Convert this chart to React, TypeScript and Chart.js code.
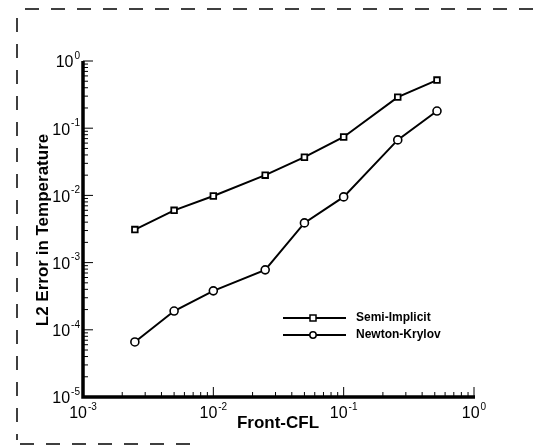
import React, { useEffect, useRef } from "react";
import { Chart, registerables } from "chart.js";

Chart.register(...registerables);

const cflValues = [0.0025, 0.005, 0.01, 0.025, 0.05, 0.1, 0.26, 0.52];
const semiImplicit = [0.0031, 0.006, 0.0098, 0.02, 0.037, 0.074, 0.29, 0.52];
const newtonKrylov = [0.000066, 0.00019, 0.00038, 0.00078, 0.0039, 0.0095, 0.067, 0.18];
const xExponents = [-3, -2, -1, 0];
const yExponents = [-5, -4, -3, -2, -1, 0];
const seriesNames = ["Semi-Implicit", "Newton-Krylov"];
const xTitle = "Front-CFL";
const yTitle = "L2 Error in Temperature";

const FONT = "'Liberation Sans', Arial, sans-serif";

function drawPow(ctx: CanvasRenderingContext2D, exp: number, x: number, y: number, align: "center" | "right") {
  ctx.save();
  ctx.fillStyle = "#000";
  ctx.textBaseline = "middle";
  ctx.font = `16px ${FONT}`;
  const base = "10";
  const bw = ctx.measureText(base).width;
  ctx.font = `10px ${FONT}`;
  const sup = String(exp);
  const sw = ctx.measureText(sup).width;
  const total = bw + sw + 1;
  const x0 = align === "center" ? x - total / 2 : x - total;
  ctx.font = `16px ${FONT}`;
  ctx.textAlign = "left";
  ctx.fillText(base, x0, y);
  ctx.font = `10px ${FONT}`;
  ctx.fillText(sup, x0 + bw + 1, y - 7);
  ctx.restore();
}

const decorPlugin = {
  id: "decor",
  afterDraw(chart: any) {
    const ctx: CanvasRenderingContext2D = chart.ctx;
    const xs = chart.scales.x;
    const ys = chart.scales.y;
    const { left, right, top, bottom } = chart.chartArea;
    ctx.save();
    // dashed frame
    ctx.strokeStyle = "#000";
    ctx.lineWidth = 1.5;
    ctx.setLineDash([14, 12]);
    ctx.beginPath();
    ctx.moveTo(25, 9);
    ctx.lineTo(536, 9);
    ctx.moveTo(17, 18);
    ctx.lineTo(17, 440);
    ctx.moveTo(20, 444);
    ctx.lineTo(200, 444);
    ctx.stroke();
    ctx.setLineDash([]);

    // minor/major ticks (inward)
    ctx.lineWidth = 1;
    ctx.beginPath();
    for (let e = -3; e < 0; e++) {
      for (let m = 1; m <= 9; m++) {
        const v = m * Math.pow(10, e);
        const px = xs.getPixelForValue(v);
        const len = m === 1 ? 10 : 5;
        ctx.moveTo(px, bottom);
        ctx.lineTo(px, bottom - len);
      }
    }
    {
      const px = xs.getPixelForValue(1);
      ctx.moveTo(px, bottom);
      ctx.lineTo(px, bottom - 10);
    }
    for (let e = -5; e < 0; e++) {
      for (let m = 1; m <= 9; m++) {
        const v = m * Math.pow(10, e);
        const py = ys.getPixelForValue(v);
        const len = m === 1 ? 10 : 5;
        ctx.moveTo(left, py);
        ctx.lineTo(left + len, py);
      }
    }
    {
      const py = ys.getPixelForValue(1);
      ctx.moveTo(left, py);
      ctx.lineTo(left + 10, py);
    }
    ctx.stroke();

    // thick axes
    ctx.lineWidth = 3.5;
    ctx.beginPath();
    ctx.moveTo(left, top);
    ctx.lineTo(left, bottom);
    ctx.lineTo(right + 1, bottom);
    ctx.stroke();

    // tick labels
    xExponents.forEach((e) => drawPow(ctx, e, xs.getPixelForValue(Math.pow(10, e)), bottom + 17, "center"));
    yExponents.forEach((e) => drawPow(ctx, e, left - 3, ys.getPixelForValue(Math.pow(10, e)) + 2, "right"));

    // axis titles
    ctx.fillStyle = "#000";
    ctx.font = `bold 17px ${FONT}`;
    ctx.textAlign = "center";
    ctx.textBaseline = "middle";
    ctx.fillText(xTitle, 278, 423);
    ctx.save();
    ctx.translate(43, 230);
    ctx.rotate(-Math.PI / 2);
    ctx.fillText(yTitle, 0, 0);
    ctx.restore();

    // legend
    const legY = [318, 335];
    const styles = ["rect", "circle"];
    legY.forEach((y, i) => {
      ctx.strokeStyle = "#000";
      ctx.lineWidth = 2;
      ctx.beginPath();
      ctx.moveTo(283, y);
      ctx.lineTo(346, y);
      ctx.stroke();
      ctx.fillStyle = "#fff";
      ctx.lineWidth = 1.5;
      ctx.beginPath();
      if (styles[i] === "rect") {
        ctx.rect(310, y - 3, 6, 6);
      } else {
        ctx.arc(313, y, 3.2, 0, Math.PI * 2);
      }
      ctx.fill();
      ctx.stroke();
      ctx.fillStyle = "#000";
      ctx.font = `bold 12px ${FONT}`;
      ctx.textAlign = "left";
      ctx.fillText(seriesNames[i], 356, y);
    });
    ctx.restore();
  },
};

export default function App() {
  const ref = useRef<HTMLCanvasElement | null>(null);
  useEffect(() => {
    document.body.style.margin = "0";
    document.body.style.background = "#fff";
    const canvas = ref.current!;
    const chart = new Chart(canvas, {
      type: "line",
      data: {
        datasets: [
          {
            label: seriesNames[0],
            data: cflValues.map((x, i) => ({ x, y: semiImplicit[i] })),
            borderColor: "#000",
            borderWidth: 2,
            pointStyle: "rect",
            pointRadius: 4,
            pointBackgroundColor: "#fff",
            pointBorderColor: "#000",
            pointBorderWidth: 1.8,
          },
          {
            label: seriesNames[1],
            data: cflValues.map((x, i) => ({ x, y: newtonKrylov[i] })),
            borderColor: "#000",
            borderWidth: 2,
            pointStyle: "circle",
            pointRadius: 4,
            pointBackgroundColor: "#fff",
            pointBorderColor: "#000",
            pointBorderWidth: 1.6,
          },
        ],
      },
      options: {
        animation: false,
        responsive: false,
        layout: { padding: { left: 83, right: 62, top: 61, bottom: 48 } },
        plugins: { legend: { display: false }, tooltip: { enabled: false } },
        scales: {
          x: {
            type: "logarithmic",
            min: 0.001,
            max: 1,
            grid: { display: false, drawTicks: false },
            border: { display: false },
            ticks: { display: false },
          },
          y: {
            type: "logarithmic",
            min: 0.00001,
            max: 1,
            grid: { display: false, drawTicks: false },
            border: { display: false },
            ticks: { display: false },
          },
        },
      },
      plugins: [decorPlugin],
    });
    return () => chart.destroy();
  }, []);
  return <canvas ref={ref} width={536} height={445} style={{ display: "block" }} />;
}
